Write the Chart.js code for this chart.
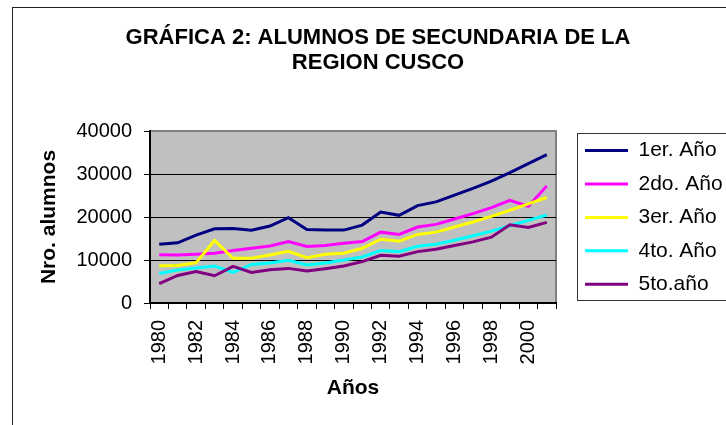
<!DOCTYPE html>
<html>
<head>
<meta charset="utf-8">
<script src="https://cdn.jsdelivr.net/npm/chart.js@4/dist/chart.umd.min.js"></script>
<style>
  html, body { margin: 0; padding: 0; overflow: hidden; background: #ffffff; }
  canvas { display: block; }
</style>
</head>
<body>
<canvas id="grafica" width="726" height="425"></canvas>
<script>
// Datos
const anios = ["1980", "1981", "1982", "1983", "1984", "1985", "1986", "1987", "1988", "1989", "1990",
  "1991", "1992", "1993", "1994", "1995", "1996", "1997", "1998", "1999", "2000", "2001"];
const primero = [13670, 14000, 15800, 17260, 17340, 16950, 17900, 19840, 17100, 16950, 16950,
  18120, 21170, 20390, 22660, 23520, 25080, 26640, 28360, 30310, 32420, 34530];
const segundo = [11250, 11170, 11330, 11560, 12190, 12730, 13280, 14300, 13130, 13360, 13900,
  14300, 16480, 15940, 17660, 18280, 19530, 20780, 22190, 23900, 22500, 27190];
const tercero = [8670, 8750, 9380, 14530, 10390, 10390, 11170, 12030, 10550, 11330, 11560,
  12730, 14840, 14380, 15940, 16480, 17660, 18830, 20160, 21560, 23050, 24530];
const cuarto = [6880, 7660, 8120, 8590, 7110, 8980, 9300, 9920, 8830, 9300, 10000,
  10700, 12190, 11950, 13200, 13670, 14610, 15630, 16720, 17970, 19220, 20470];
const quinto = [4530, 6400, 7340, 6330, 8520, 7110, 7730, 8050, 7420, 7970, 8590,
  9610, 11090, 10860, 11950, 12500, 13360, 14220, 15310, 18200, 17580, 18750];
const series = ["1er. Año", "2do. Año", "3er. Año", "4to. Año", "5to.año"];
const colores = ["#000080", "#ff00ff", "#ffff00", "#00ffff", "#800080"];
const valores = [primero, segundo, tercero, cuarto, quinto];

const fuente = "'Liberation Sans', Arial, sans-serif";

// Fondo, marcos y posicion de la leyenda
const marcoGrafico = {
  id: "marcoGrafico",
  beforeLayout(chart) {
    const lg = chart.legend;
    if (lg && !lg._anchoFijo) {
      const fit = lg.fit.bind(lg);
      lg.fit = () => {
        fit();
        lg.width = 170;
      };
      lg._anchoFijo = true;
    }
  },
  afterLayout(chart) {
    const lg = chart.legend;
    lg.left = 572.6;
    lg.top = 127.7;
  },
  beforeDraw(chart) {
    const { ctx, chartArea: a } = chart;
    ctx.save();
    ctx.fillStyle = "#ffffff";
    ctx.fillRect(0, 0, chart.width, chart.height);
    ctx.strokeStyle = "#222222";
    ctx.lineWidth = 1;
    ctx.strokeRect(12.5, 7.5, chart.width, chart.height);
    ctx.fillStyle = "#c0c0c0";
    ctx.fillRect(a.left, a.top, a.right - a.left, a.bottom - a.top);
    ctx.strokeStyle = "#808080";
    ctx.lineWidth = 2;
    ctx.strokeRect(a.left, a.top, a.right - a.left, a.bottom - a.top);
    ctx.strokeStyle = "#333333";
    ctx.lineWidth = 1;
    ctx.strokeRect(577.5, 133.5, 200, 167);
    ctx.restore();
  },
};

new Chart(document.getElementById("grafica"), {
  type: "line",
  data: {
    labels: anios,
    datasets: valores.map((v, i) => ({
      label: series[i],
      data: v,
      borderColor: colores[i],
      backgroundColor: colores[i],
      borderWidth: 3,
      pointRadius: 0,
      tension: 0,
      order: series.length - i,
    })),
  },
  options: {
    responsive: false,
    animation: false,
    layout: {
      padding: { left: 30, right: 0, top: 0, bottom: 0 },
    },
    scales: {
      x: {
        offset: true,
        grid: {
          offset: true,
          drawOnChartArea: false,
          tickLength: 6,
          color: "#000000",
        },
        border: { color: "#000000", width: 2 },
        ticks: {
          autoSkip: false,
          minRotation: 90,
          maxRotation: 90,
          padding: 11,
          color: "#000000",
          font: { family: fuente, size: 20 },
          callback: function (value, index) {
            return index % 2 === 0 ? this.getLabelForValue(value) : "";
          },
        },
        title: {
          display: true,
          text: "Años",
          color: "#000000",
          font: { family: fuente, size: 21, weight: "bold" },
          padding: { top: 0, bottom: 24 },
        },
        afterFit: (scale) => {
          scale.height = 122;
        },
      },
      y: {
        min: 0,
        max: 40000,
        ticks: {
          stepSize: 10000,
          padding: 12,
          color: "#000000",
          font: { family: fuente, size: 20 },
          callback: (value) => String(value),
        },
        grid: {
          tickLength: 6,
          tickColor: "#000000",
          color: (c) => (c.tick && c.tick.value === 40000 ? "#808080" : "#000000"),
        },
        border: { color: "#000000", width: 2 },
        title: {
          display: true,
          text: "Nro. alumnos",
          color: "#000000",
          font: { family: fuente, size: 21, weight: "bold" },
          padding: { top: 7, bottom: 0 },
        },
        afterFit: (scale) => {
          scale.width = 120;
        },
      },
    },
    plugins: {
      title: {
        display: true,
        text: ["GRÁFICA 2: ALUMNOS DE SECUNDARIA DE LA", "REGION CUSCO"],
        color: "#000000",
        font: { family: fuente, size: 22, weight: "bold", lineHeight: 1.114 },
        padding: { top: 26, bottom: 56 },
      },
      legend: {
        position: "right",
        align: "start",
        labels: {
          usePointStyle: true,
          pointStyle: "line",
          pointStyleWidth: 43,
          padding: 12.4,
          color: "#000000",
          font: { family: fuente, size: 21 },
          sort: (a, b) => a.datasetIndex - b.datasetIndex,
        },
      },
      tooltip: { enabled: false },
    },
  },
  plugins: [marcoGrafico],
});
</script>
</body>
</html>
